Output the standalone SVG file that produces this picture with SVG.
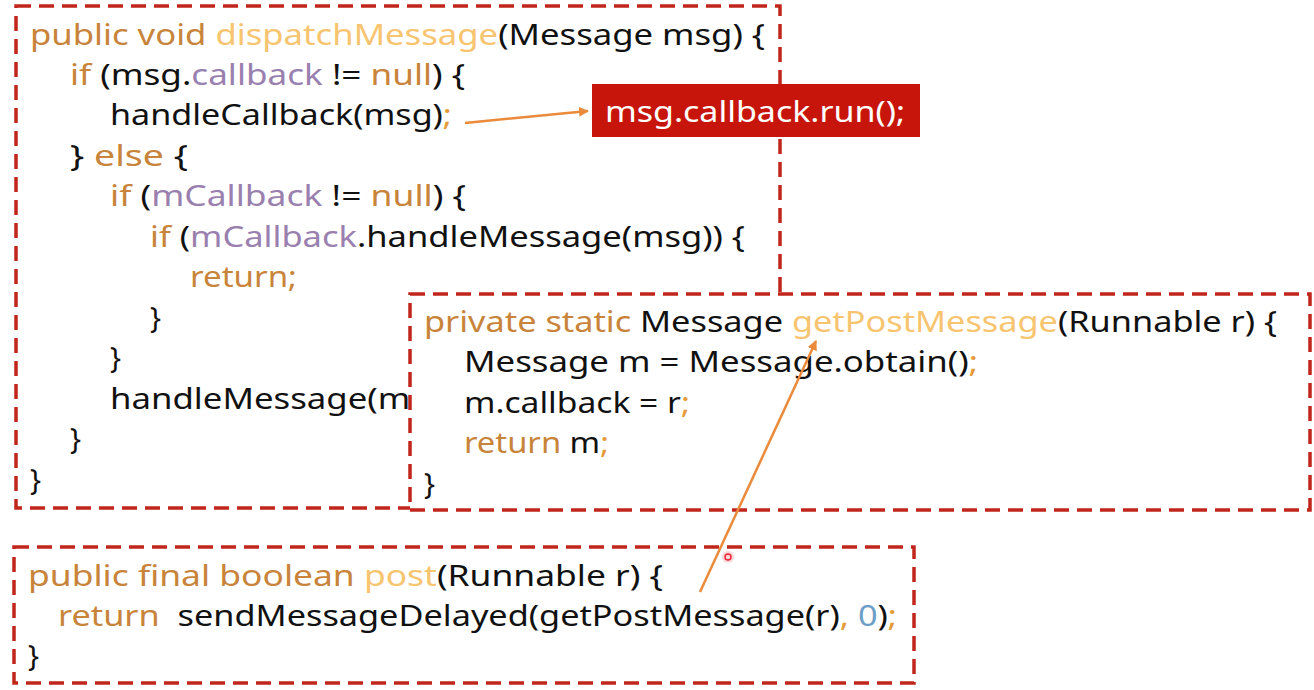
<svg xmlns="http://www.w3.org/2000/svg" width="1314" height="690" viewBox="0 0 1314 690">
<defs>
<style>
.box{fill:#fff;stroke:#c0261b;stroke-width:3.5;stroke-dasharray:15 8}
.code{font-family:"Noto Sans","Open Sans","DejaVu Sans",sans-serif;font-size:29px;fill:#111}
.k{fill:#c8843a}
.f{fill:#f7c46f}
.v{fill:#9a80ae}
.s{fill:#e59a3a}
.n{fill:#6d9ec8}
.arrow{stroke:#ea8a3a;stroke-width:2.5;fill:none}
</style>
<marker id="ah" viewBox="0 0 10 10" refX="9" refY="5" markerWidth="10" markerHeight="10" markerUnits="userSpaceOnUse" orient="auto">
<path d="M0,0 L10,5 L0,10 z" fill="#ea8a3a"/>
</marker>
</defs>
<rect width="1314" height="690" fill="#fff"/>

<g id="dispatchMessage">
<rect class="box" x="16" y="6" width="764" height="502"/>
<text class="code" x="30" y="45" textLength="735" lengthAdjust="spacingAndGlyphs"><tspan class="k">public void </tspan><tspan class="f">dispatchMessage</tspan>(Message msg) {</text>
<text class="code" x="70" y="85" textLength="395" lengthAdjust="spacingAndGlyphs"><tspan class="k">if</tspan> (msg.<tspan class="v">callback</tspan> != <tspan class="k">null</tspan>) {</text>
<text class="code" x="110" y="125" textLength="342" lengthAdjust="spacingAndGlyphs">handleCallback(msg)<tspan class="s">;</tspan></text>
<text class="code" x="70" y="166" textLength="118" lengthAdjust="spacingAndGlyphs">} <tspan class="k">else</tspan> {</text>
<text class="code" x="110" y="206" textLength="356" lengthAdjust="spacingAndGlyphs"><tspan class="k">if</tspan> (<tspan class="v">mCallback</tspan> != <tspan class="k">null</tspan>) {</text>
<text class="code" x="150" y="247" textLength="595" lengthAdjust="spacingAndGlyphs"><tspan class="k">if</tspan> (<tspan class="v">mCallback</tspan>.handleMessage(msg)) {</text>
<text class="code" x="190" y="287" textLength="107" lengthAdjust="spacingAndGlyphs"><tspan class="k">return;</tspan></text>
<text class="code" x="150" y="328">}</text>
<text class="code" x="110" y="368">}</text>
<text class="code" x="110" y="409" textLength="358" lengthAdjust="spacingAndGlyphs">handleMessage(msg);</text>
<text class="code" x="70" y="449">}</text>
<text class="code" x="30" y="490">}</text>
</g>

<g id="callbackRun">
<rect x="592" y="84" width="328" height="53" fill="#c8150b"/>
<text class="code" x="605" y="122" textLength="300" lengthAdjust="spacingAndGlyphs" style="fill:#fff">msg.callback.run();</text>
</g>

<g id="getPostMessage">
<rect class="box" x="410" y="294" width="900" height="216"/>
<text class="code" x="424" y="332" textLength="853" lengthAdjust="spacingAndGlyphs"><tspan class="k">private static </tspan>Message <tspan class="f">getPostMessage</tspan>(Runnable r) {</text>
<text class="code" x="464" y="372" textLength="514" lengthAdjust="spacingAndGlyphs">Message m = Message.obtain()<tspan class="s">;</tspan></text>
<text class="code" x="464" y="413" textLength="226" lengthAdjust="spacingAndGlyphs">m.callback = r<tspan class="s">;</tspan></text>
<text class="code" x="464" y="453" textLength="145" lengthAdjust="spacingAndGlyphs"><tspan class="k">return</tspan> m<tspan class="s">;</tspan></text>
<text class="code" x="424" y="494">}</text>
</g>

<g id="post">
<rect class="box" x="14" y="547" width="900" height="136"/>
<text class="code" x="28" y="586" textLength="635" lengthAdjust="spacingAndGlyphs"><tspan class="k">public final boolean </tspan><tspan class="f">post</tspan>(Runnable r) {</text>
<text class="code" x="58" y="626" textLength="839" lengthAdjust="spacingAndGlyphs" xml:space="preserve"><tspan class="k">return</tspan>  sendMessageDelayed(getPostMessage(r)<tspan class="s">,</tspan> <tspan class="n">0</tspan>)<tspan class="s">;</tspan></text>
<text class="code" x="28" y="666">}</text>
</g>

<g id="connectors">
<line class="arrow" x1="465" y1="123" x2="588" y2="111" marker-end="url(#ah)"/>
<line class="arrow" x1="700" y1="592" x2="816" y2="341" marker-end="url(#ah)"/>
</g>

<g id="cursor">
<circle cx="728" cy="557" r="6" fill="#ff4040" opacity="0.2"/>
<circle cx="728" cy="557" r="3" fill="none" stroke="#e8283a" stroke-width="1.5"/>
</g>
</svg>
